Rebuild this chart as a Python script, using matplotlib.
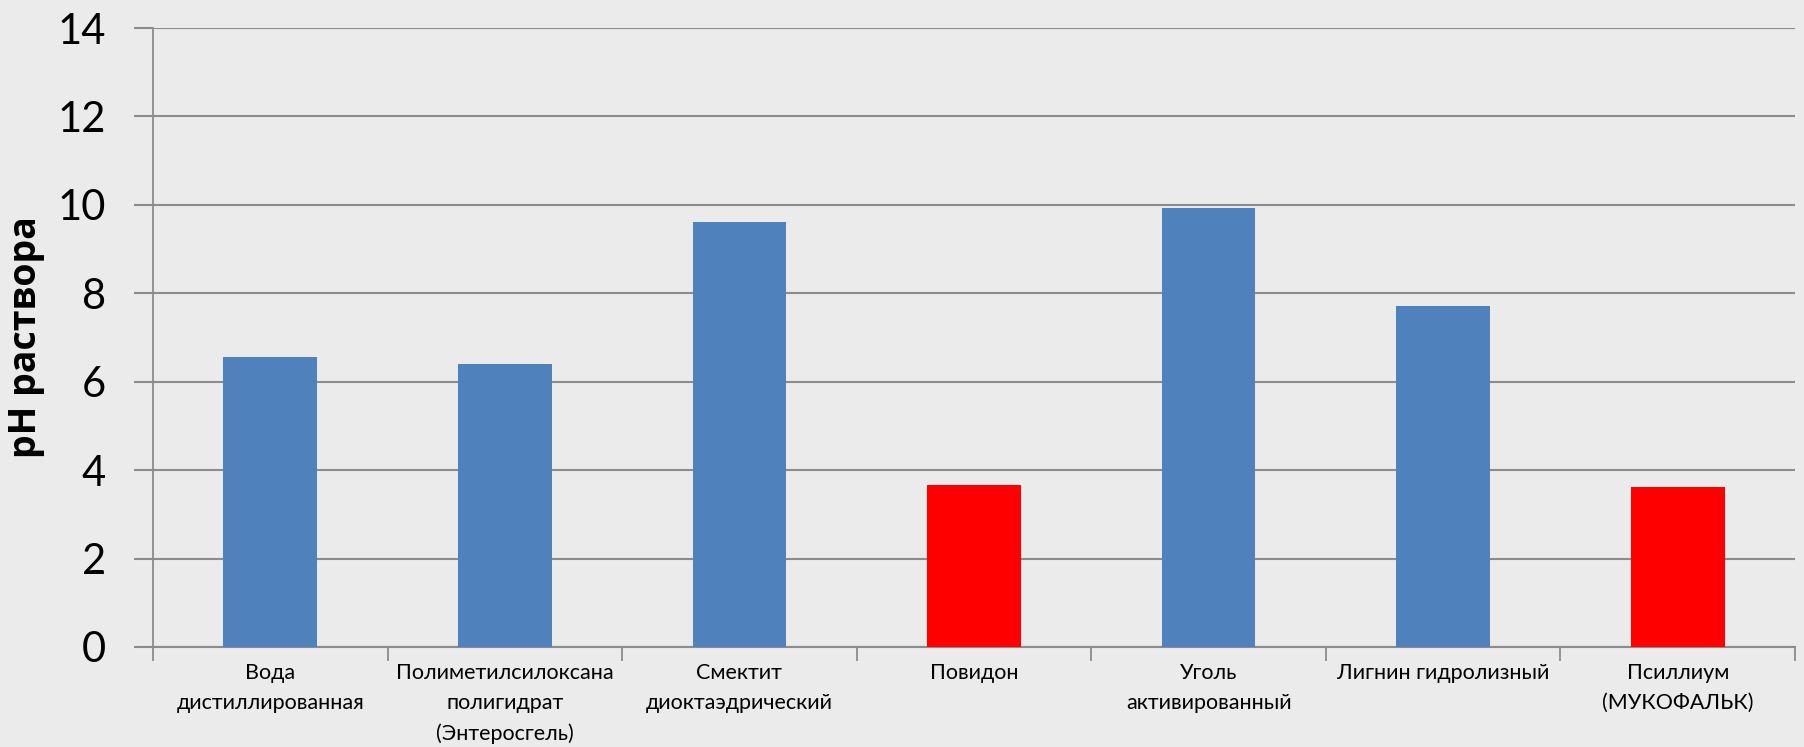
import numpy as np
import matplotlib.pyplot as plt

# data
labels = ['Вода\nдистиллированная', 'Полиметилсилоксана\nполигидрат\n(Энтеросгель)',
          'Смектит\nдиоктаэдрический', 'Повидон', 'Уголь\nактивированный',
          'Лигнин гидролизный', 'Псиллиум\n(МУКОФАЛЬК)']
ph = [6.55, 6.4, 9.62, 3.67, 9.92, 7.72, 3.62]
acidic = [False, False, False, True, False, False, True]

blue = '#4F81BD'
red = '#FF0000'
grid_c = '#8c8c8c'

fig = plt.figure(figsize=(18.04, 7.47), dpi=100, facecolor='#ebebeb')
ax = fig.add_axes([153/1804, 1 - 647/747, (1795-153)/1804, (647-28)/747])
ax.set_facecolor('none')

x = np.arange(len(ph))
cols = [red if a else blue for a in acidic]
ax.bar(x, ph, width=0.4, color=cols, zorder=3)

ax.set_xlim(-0.5, len(ph) - 0.5)
ax.set_ylim(0, 14)
ax.set_yticks(range(0, 15, 2))
ax.grid(axis='y', color=grid_c, linewidth=1.5, zorder=0)
ax.set_axisbelow(True)

for s in ['top', 'right']:
    ax.spines[s].set_visible(False)
ax.spines['left'].set_color(grid_c)
ax.spines['bottom'].set_color(grid_c)
ax.spines['left'].set_linewidth(1.3)
ax.spines['bottom'].set_linewidth(1.5)

ax.tick_params(axis='y', length=14, width=1.5, color=grid_c, labelsize=30, pad=20)
for t in ax.get_yticklabels():
    t.set_family(['Lato', 'DejaVu Sans'])

# category boundary ticks on the x axis
ax.set_xticks(np.arange(-0.5, len(ph)), minor=False)
ax.set_xticklabels([])
ax.tick_params(axis='x', length=10, width=1.3, color=grid_c)
for i, lab in enumerate(labels):
    ax.text(i, -0.36, lab, ha='center', va='top', fontsize=15.5, linespacing=1.62,
            family=['Lato', 'DejaVu Sans'])

ax.set_ylabel('pH раствора', fontsize=27, fontweight='bold',
              family=['Open Sans', 'DejaVu Sans'], labelpad=9)

fig.savefig('out.png', dpi=100, facecolor=fig.get_facecolor())
